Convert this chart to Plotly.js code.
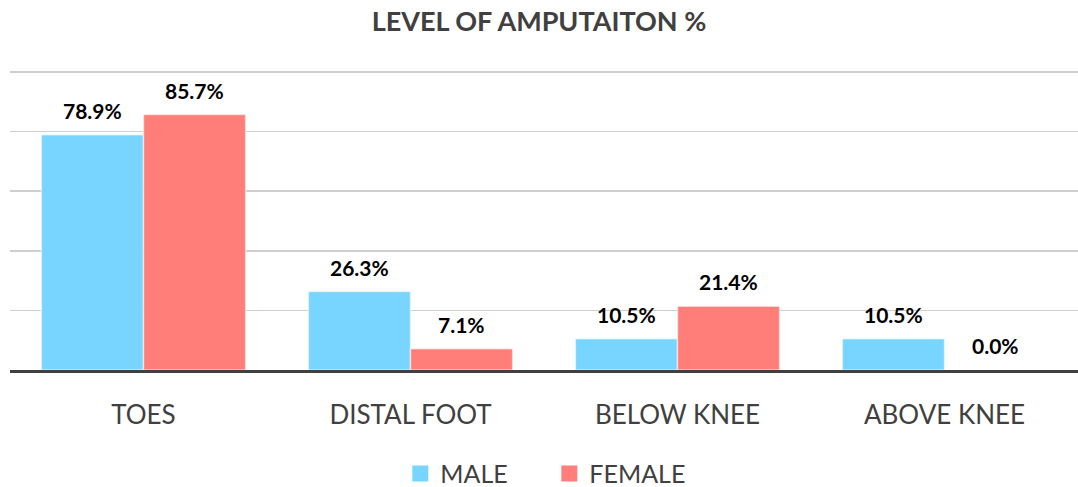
<!DOCTYPE html>
<html><head><meta charset="utf-8">
<script src="https://cdn.plot.ly/plotly-3.0.1.min.js"></script>
<style>html,body{margin:0;padding:0;background:#fff}#chart{width:1078px;height:487px}</style>
</head><body><div id="chart"></div>
<script>
const categories = ["TOES", "DISTAL FOOT", "BELOW KNEE", "ABOVE KNEE"];
const seriesNames = ["MALE", "FEMALE"];
const maleValues = [78.9, 26.3, 10.5, 10.5];
const femaleValues = [85.7, 7.1, 21.4, 0.0];
const colors = ["#77D5FF", "#FF7E79"];
const titleText = "LEVEL OF AMPUTAITON %";

const FONT = "Lato, 'Open Sans', sans-serif";
const series = [maleValues, femaleValues];

const traces = series.map((vals, i) => ({
  type: "bar",
  x: categories,
  y: vals,
  name: seriesNames[i],
  marker: { color: colors[i], line: { color: "rgba(255,255,255,0.55)", width: 1.5 } },
  showlegend: false,
  hoverinfo: "none"
}));
series.forEach((vals, i) => traces.push({
  type: "scatter", mode: "markers",
  x: [categories[0]], y: [null],
  name: seriesNames[i],
  marker: { symbol: "square", size: 16, color: colors[i] },
  showlegend: true, hoverinfo: "none"
}));

const L = 10, R = 0;
const plotW = 1078 - L - R;
const catW = plotW / categories.length;
const bargap = 0.235;
const barW = catW * (1 - bargap) / 2;

const annotations = [];
series.forEach((vals, i) => vals.forEach((v, j) => annotations.push({
  x: categories[j], y: v, xref: "x", yref: "y",
  text: "<b>" + v.toFixed(1) + "%</b>",
  showarrow: false, yanchor: "bottom",
  xshift: (i === 0 ? -1 : 1) * barW / 2, yshift: 10,
  font: { family: FONT, size: 21, color: "#000" }
})));

const layout = {
  width: 1078, height: 487,
  margin: { l: L, r: R, t: 69, b: 117 },
  paper_bgcolor: "#fff", plot_bgcolor: "#fff",
  title: { text: "<b>" + titleText + "</b>", x: 0.5, xanchor: "center", y: 0.955, yanchor: "middle",
           font: { family: FONT, size: 27, color: "#404040" } },
  barmode: "group", bargap: bargap, bargroupgap: 0,
  xaxis: { type: "category", showgrid: false, showline: true, linecolor: "#404040", linewidth: 3,
           ticks: "", ticklabelstandoff: 20, zeroline: false, automargin: false,
           tickfont: { family: FONT, size: 26, color: "#404040" } },
  yaxis: { range: [0, 101], tickvals: [20, 40, 60, 80, 100], showticklabels: false, showgrid: true, gridcolor: "#cfcfcf",
           gridwidth: 1.5, zeroline: false, showline: false, ticks: "", automargin: false },
  showlegend: true,
  legend: { orientation: "h", x: 0.505, xanchor: "center", yref: "container", y: 0.027, yanchor: "middle",
            font: { family: FONT, size: 25, color: "#404040" }, itemwidth: 30, traceorder: "normal",
            entrywidth: 104, entrywidthmode: "pixels", tracegroupgap: 0 },
  annotations: annotations
};
Plotly.newPlot("chart", traces, layout, { displayModeBar: false, staticPlot: true });
</script></body></html>
